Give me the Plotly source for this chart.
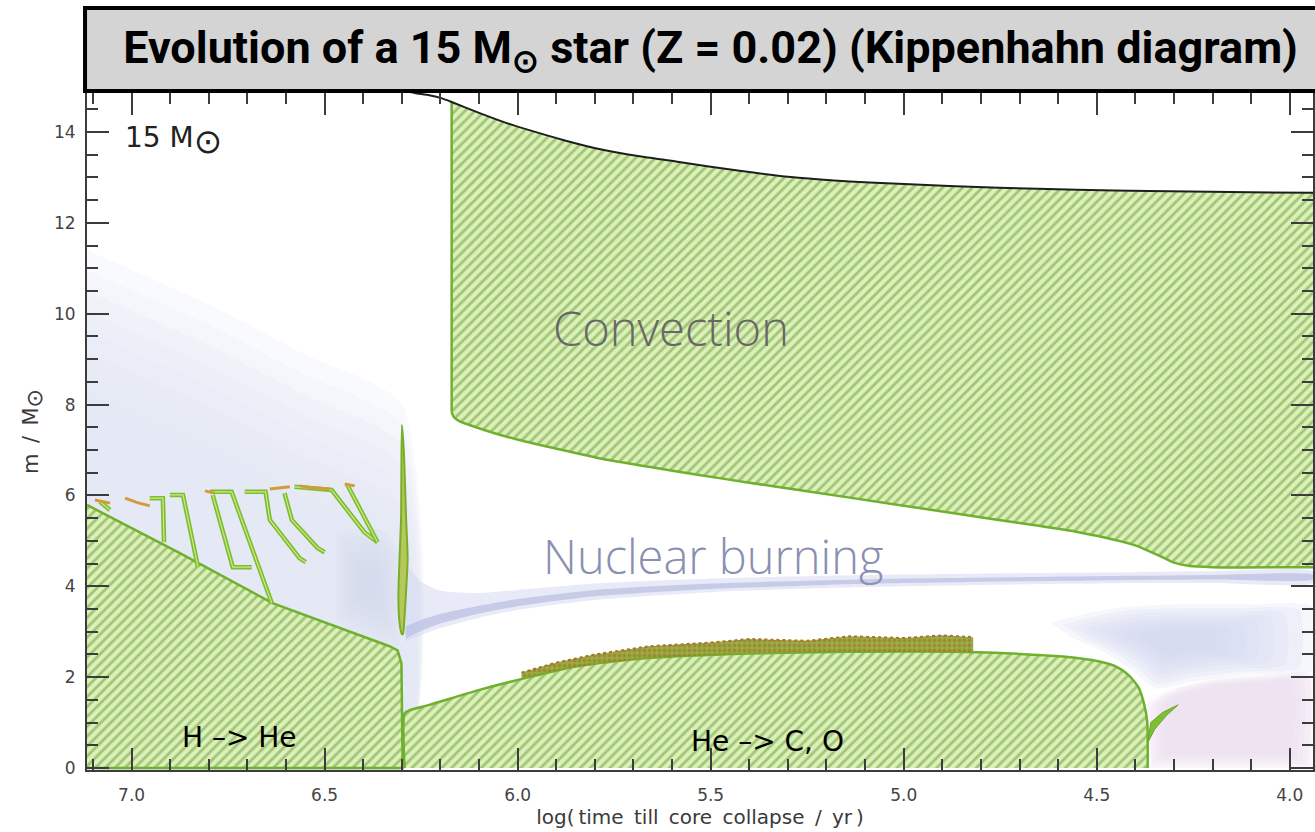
import plotly.graph_objects as go

# ---- axis extents ---------------------------------------------------------
T_RANGE = [7.1156, 3.9397]          # log(time till core collapse / yr), reversed
M_RANGE = [-0.044, 14.858]          # m / Msun
T_TICKS = [7.0, 6.5, 6.0, 5.5, 5.0, 4.5, 4.0]
T_TICK_TEXT = ["7.0", "6.5", "6.0", "5.5", "5.0", "4.5", "4.0"]
M_TICKS = [0, 2, 4, 6, 8, 10, 12, 14]

# ---- convective H-burning core (outer edge) -------------------------------
h_core_t = [7.1156, 6.875, 6.635, 6.461, 6.332, 6.311, 6.301, 6.298]
h_core_m = [5.79, 4.73, 3.63, 3.08, 2.68, 2.59, 2.30, 0.0]

# ---- convective He-burning core -------------------------------------------
he_core_t = [6.293, 6.293, 6.280, 6.229, 6.099, 5.970, 5.840, 5.660, 5.401,
             5.142, 4.806, 4.581, 4.496, 4.452, 4.418, 4.392, 4.377, 4.369, 4.368]
he_core_m = [0.0, 1.20, 1.27, 1.39, 1.72, 2.00, 2.25, 2.42, 2.52,
             2.56, 2.55, 2.45, 2.35, 2.24, 2.05, 1.78, 1.40, 1.00, 0.0]

# semiconvective fringe on top of the He core
semi_t = [5.99, 5.90, 5.80, 5.66, 5.50, 5.40, 5.25, 5.14, 5.00, 4.90, 4.82]
semi_lo = [1.98, 2.14, 2.28, 2.42, 2.49, 2.52, 2.55, 2.56, 2.56, 2.56, 2.55]
semi_hi = [2.10, 2.32, 2.50, 2.68, 2.76, 2.84, 2.80, 2.90, 2.86, 2.92, 2.88]

# ---- stellar surface and convective envelope ------------------------------
surface_t = [6.32, 6.267, 6.229, 6.200, 6.171, 6.10, 6.03, 5.970, 5.88, 5.786,
             5.68, 5.582, 5.43, 5.272, 5.14, 5.013, 4.754, 4.55, 4.366, 3.9397]
surface_m = [14.95, 14.86, 14.81, 14.75, 14.66, 14.42, 14.20, 14.04, 13.82, 13.62,
             13.46, 13.34, 13.15, 12.99, 12.91, 12.86, 12.77, 12.73, 12.70, 12.66]
env_base_t = [6.171, 6.165, 6.150, 6.125, 6.06, 5.996, 5.89, 5.789, 5.66, 5.530,
              5.40, 5.272, 5.013, 4.754, 4.65, 4.547, 4.452, 4.40, 4.366, 4.33,
              4.300, 4.263, 4.20, 3.9397]
env_base_m = [7.84, 7.72, 7.63, 7.55, 7.37, 7.22, 7.01, 6.82, 6.63, 6.45,
              6.28, 6.12, 5.79, 5.46, 5.33, 5.19, 5.02, 4.90, 4.78, 4.64,
              4.52, 4.45, 4.42, 4.42]

# ---- short convective episode at the end of core H burning ----------------
spike_t = [6.300, 6.302, 6.306, 6.309, 6.306, 6.300, 6.297, 6.294, 6.289,
           6.285, 6.289, 6.295, 6.300]
spike_m = [7.55, 5.50, 4.60, 3.80, 3.20, 2.95, 2.95, 3.20, 3.90,
           4.60, 5.50, 7.00, 7.55]

# small convective shell after core He exhaustion
shell_c_t = [4.368, 4.360, 4.330, 4.289, 4.320, 4.350, 4.365]
shell_c_m = [0.55, 1.00, 1.22, 1.39, 1.15, 0.85, 0.60]

# ---- intermediate convective shells during core H burning -----------------
shell_1_t = [7.082, 7.056]
shell_1_m = [5.86, 5.68]
shell_2_t = [6.953, 6.919, 6.916]
shell_2_m = [5.94, 5.94, 4.97]
shell_3_t = [6.901, 6.867, 6.828]
shell_3_m = [6.01, 6.01, 4.42]
shell_4a_t = [6.790, 6.738, 6.689]
shell_4a_m = [6.01, 4.42, 4.42]
shell_4b_t = [6.797, 6.741, 6.637]
shell_4b_m = [6.08, 6.08, 3.63]
shell_5_t = [6.707, 6.653, 6.642, 6.565, 6.549]
shell_5_m = [6.08, 6.08, 5.46, 4.62, 4.53]
shell_6_t = [6.604, 6.585, 6.518, 6.500]
shell_6_m = [6.05, 5.46, 4.84, 4.75]
shell_7_t = [6.578, 6.482, 6.397, 6.363]
shell_7_m = [6.19, 6.12, 5.19, 4.97]
shell_8_t = [6.441, 6.363]
shell_8_m = [6.23, 4.97]

# overshooting / semiconvective caps of the shells
cap_t = [[7.095, 7.056], [7.017, 6.985, 6.953], [6.810, 6.785],
         [6.642, 6.590], [6.565, 6.530, 6.487], [6.448, 6.422]]
cap_m = [[5.90, 5.83], [5.94, 5.84, 5.77], [6.10, 6.05],
         [6.14, 6.19], [6.21, 6.17, 6.14], [6.25, 6.21]]

# ---- nuclear energy generation (shaded) -----------------------------------
# H-burning shell
burn_t = [6.29, 6.25, 6.20, 6.10, 6.00, 5.80, 5.50, 5.20, 5.00, 4.70, 4.40, 4.20, 3.9397]
burn_core_lo = [2.85, 3.02, 3.18, 3.40, 3.56, 3.78, 3.94, 4.03, 4.07, 4.11, 4.14, 4.15, 4.15]
burn_core_hi = [3.12, 3.26, 3.39, 3.57, 3.72, 3.92, 4.06, 4.13, 4.17, 4.20, 4.23, 4.25, 4.25]
burn_halo_lo = [2.78, 2.93, 3.08, 3.31, 3.48, 3.70, 3.87, 3.96, 4.00, 4.04, 4.07, 4.07, 4.07]
burn_halo_hi = [4.50, 4.10, 3.90, 3.85, 3.92, 4.06, 4.17, 4.23, 4.26, 4.29, 4.31, 4.33, 4.33]

# core H burning region (upper edge of the shaded zone)
h_burn_t = [7.1156, 6.80, 6.55, 6.30]
h_burn_m = [11.4, 10.2, 9.1, 8.0]
h_burn_peak_t = [6.47, 6.36, 6.31, 6.31, 6.40, 6.47]
h_burn_peak_m = [5.2, 5.3, 4.8, 2.7, 2.9, 3.2]

# late burning around the exhausted He core
late_burn_t = [4.62, 4.50, 4.42, 4.30, 4.10, 3.9397, 3.9397, 4.10, 4.25, 4.35, 4.40, 4.47, 4.56]
late_burn_m = [3.20, 3.45, 3.55, 3.60, 3.60, 3.55, 2.15, 2.05, 1.90, 1.75, 2.10, 2.50, 2.85]
late_core_t = [4.368, 4.368, 4.30, 4.20, 4.05, 3.9397, 3.9397]
late_core_m = [0.0, 1.40, 1.75, 1.95, 2.05, 2.05, 0.0]

# ---------------------------------------------------------------------------
HATCH = dict(shape="/", bgcolor="#dbf1b6", fgcolor="#67963f", size=7, solidity=0.4)
EDGE_GREEN = "#6fb02e"
SHELL_GREEN = "#7dbd2e"
CAP_ORANGE = "#d39a3c"

fig = go.Figure()


def area(t, m, color, line_color=None, width=0, pattern=None, smooth=False):
    fig.add_trace(go.Scatter(
        x=t, y=m, mode="lines", fill="toself", fillcolor=color,
        fillpattern=pattern,
        line=dict(color=line_color or "rgba(0,0,0,0)", width=width,
                  shape="spline" if smooth else "linear", smoothing=0.6),
        hoverinfo="skip", showlegend=False))


def band(t, lo, hi, color, smooth=True):
    area(list(t) + list(t)[::-1], list(lo) + list(hi)[::-1], color, smooth=smooth)


def path(t, m, color, width, dash=None, smooth=False):
    fig.add_trace(go.Scatter(
        x=t, y=m, mode="lines",
        line=dict(color=color, width=width, dash=dash,
                  shape="spline" if smooth else "linear", smoothing=0.6),
        hoverinfo="skip", showlegend=False))


def soft(t, m, color, steps, shrink):
    """Stack translucent copies, each pulled toward its centroid, for a soft edge."""
    ct = sum(t) / len(t)
    cm = sum(m) / len(m)
    for k in range(steps):
        f = 1.0 - shrink * k / steps
        area([ct + (a - ct) * f for a in t], [cm + (b - cm) * f for b in m],
             color, smooth=True)


# nuclear burning shading: core H burning, fading upward
for k in range(8):
    drop = 0.45 * k
    area(h_burn_t + [6.30, 7.1156], [v - drop for v in h_burn_m] + [0.0, 0.0],
         "rgba(226,229,246,0.20)", smooth=True)
soft(h_burn_peak_t, h_burn_peak_m, "rgba(208,212,238,0.15)", 6, 0.8)

soft(late_burn_t, late_burn_m, "rgba(212,215,238,0.20)", 8, 0.8)
soft(late_core_t, late_core_m, "rgba(236,222,238,0.30)", 5, 0.3)

band(burn_t, burn_halo_lo, burn_halo_hi, "rgba(214,217,240,0.55)")
band(burn_t, burn_core_lo, burn_core_hi, "rgba(186,191,226,0.72)")

# convective zones (hatched)
area(h_core_t + [7.1156], h_core_m + [0.0], "#dbf1b6", EDGE_GREEN, 2.5, HATCH)
area(he_core_t, he_core_m, "#dbf1b6", EDGE_GREEN, 2.5, HATCH, smooth=True)

env_t = [t for t in surface_t if t <= 6.171] + env_base_t[::-1]
env_m = [m for t, m in zip(surface_t, surface_m) if t <= 6.171] + env_base_m[::-1]
area(env_t, env_m, "#dbf1b6", None, 0, HATCH)
path(env_base_t, env_base_m, EDGE_GREEN, 2.5, smooth=True)
path([6.171, 6.171], [env_base_m[0], 14.66], EDGE_GREEN, 2.5)

area(list(semi_t) + semi_t[::-1], list(semi_lo) + semi_hi[::-1], "rgba(150,168,52,0.85)",
     pattern=dict(shape=".", bgcolor="rgba(140,165,45,0.9)", fgcolor="#a8682a",
                  size=5, solidity=0.45))
path(semi_t, semi_hi, "#a8742a", 2, "dot")

area(spike_t, spike_m, "#b6c85a", "#78ae2a", 2, smooth=True)
area(shell_c_t, shell_c_m, "#7fbf35", "#6aa82a", 1)

for st, sm in [(shell_1_t, shell_1_m), (shell_2_t, shell_2_m), (shell_3_t, shell_3_m),
               (shell_4a_t, shell_4a_m), (shell_4b_t, shell_4b_m), (shell_5_t, shell_5_m),
               (shell_6_t, shell_6_m), (shell_7_t, shell_7_m), (shell_8_t, shell_8_m)]:
    path(st, sm, SHELL_GREEN, 4.5)
    path(st, sm, "#cfe98a", 1.2)
for ct, cm in zip(cap_t, cap_m):
    path(ct, cm, CAP_ORANGE, 3)

# stellar surface
path(surface_t, surface_m, "#1e1e1e", 2, smooth=True)

AX_COLOR = "#3c3c3c"
TICK_FONT = dict(family="DejaVu Sans, Liberation Sans, sans-serif", size=17, color="#444444")
LABEL_FONT = dict(family="DejaVu Sans, Liberation Sans, sans-serif", size=20, color="#3a3a3a")
common = dict(showgrid=False, zeroline=False, showline=True, linecolor=AX_COLOR,
              linewidth=2, mirror="ticks", ticks="inside", ticklen=22, tickwidth=2,
              tickcolor=AX_COLOR, tickfont=TICK_FONT)

fig.update_layout(
    width=1315, height=832,
    margin=dict(l=87, r=0, t=93, b=62),
    paper_bgcolor="white", plot_bgcolor="white",
    title=dict(text="Evolution of a 15 M<sub>⊙</sub> star (Z = 0.02) (Kippenhahn diagram)",
               xref="paper", x=0.5086, xanchor="center",
               yref="container", y=1 - 47 / 832, yanchor="middle",
               font=dict(family="Roboto, sans-serif", size=45, color="black",
                         weight="bold")),
    xaxis=dict(range=T_RANGE, tickvals=T_TICKS, ticktext=T_TICK_TEXT,
               ticklabelstandoff=9,
               title=dict(text="log(\u2009time\u2009 till\u2009 core\u2009 collapse\u2009 /\u2009 yr\u2009)",
                          font=LABEL_FONT, standoff=4),
               minor=dict(dtick=0.1, tick0=4.0, ticks="inside", ticklen=11,
                          tickwidth=2, tickcolor=AX_COLOR, showgrid=False),
               **common),
    yaxis=dict(range=M_RANGE, tickvals=M_TICKS, ticklabelstandoff=6,
               title=dict(text="m\u2002/\u2002M<sub><span style='font-size:22px'>⊙</span></sub>",
                          font=dict(LABEL_FONT, size=21), standoff=10),
               minor=dict(dtick=0.5, tick0=0, ticks="inside", ticklen=11,
                          tickwidth=2, tickcolor=AX_COLOR, showgrid=False),
               **common),
)

# title box (drawn under the title text)
fig.add_shape(type="rect", xref="paper", yref="paper", x0=-0.0016, x1=1.01,
              y0=1.003, y1=1.1256, line=dict(color="black", width=4),
              fillcolor="#d4d4d4", layer="above")

fig.add_annotation(xref="paper", yref="paper", x=0.0293, y=0.9290,
                   text="15 M<sub><span style='font-size:34px'>⊙</span></sub>",
                   showarrow=False, xanchor="left", yanchor="middle",
                   font=dict(family="DejaVu Sans, Liberation Sans, sans-serif",
                             size=28, color="#222222"))

LIGHT = "Open Sans, Lato, sans-serif"
fig.add_annotation(xref="paper", yref="paper", x=0.476, y=0.653, text="Convection",
                   showarrow=False, xanchor="center", yanchor="middle",
                   font=dict(family=LIGHT, size=47, color="#676767", weight=300))
fig.add_annotation(xref="paper", yref="paper", x=0.5106, y=0.316, text="Nuclear burning",
                   showarrow=False, xanchor="center", yanchor="middle",
                   font=dict(family=LIGHT, size=47, color="#8a8fb2", weight=300))

REACT_FONT = dict(family="DejaVu Sans, Liberation Sans, sans-serif", size=28, color="black")
fig.add_annotation(xref="paper", yref="paper", x=0.1246, y=0.0487, text="H –> He",
                   showarrow=False, xanchor="center", yanchor="middle", font=REACT_FONT)
fig.add_annotation(xref="paper", yref="paper", x=0.5554, y=0.0428, text="He –> C, O",
                   showarrow=False, xanchor="center", yanchor="middle", font=REACT_FONT)

fig.write_html("out.html")
